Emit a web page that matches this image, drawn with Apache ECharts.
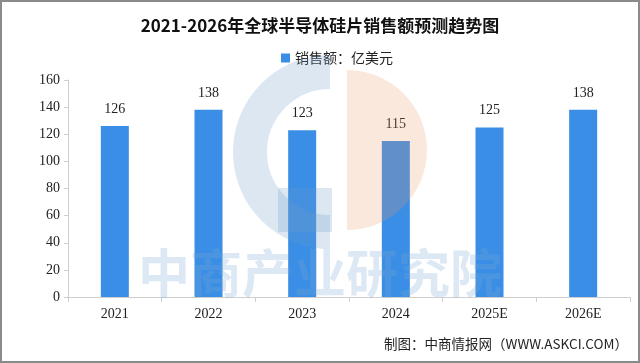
<!DOCTYPE html>
<html><head><meta charset="utf-8">
<script src="https://cdn.jsdelivr.net/npm/echarts@6/dist/echarts.min.js"></script>
<style>
html,body{margin:0;padding:0;background:#fff;}
#c{width:636px;height:359px;border:2px solid #8a8a8a;}
</style></head>
<body><div id="c"></div>
<script>
const categories = ['2021','2022','2023','2024','2025E','2026E'];
const sales = [126, 138, 123, 115, 125, 138];
const yTicks = [0, 160, 20];
const titleText = '2021-2026年全球半导体硅片销售额预测趋势图';
const seriesName = '销售额：亿美元';
const sourceText = '制图：中商情报网（WWW.ASKCI.COM）';
const watermark = '中商产业研究院';

const chart = echarts.init(document.getElementById('c'));
const numFont = '"Liberation Serif","DejaVu Serif",serif';
const cjk = '"Noto Sans CJK SC",sans-serif';
const wmBlue = 'rgba(110,155,200,0.24)';
const wmOrange = 'rgba(236,150,100,0.22)';
chart.setOption({
  animation:false,
  title:{text:titleText,left:'center',top:10,textStyle:{fontSize:17,fontWeight:'bold',color:'#111',fontFamily:cjk}},
  legend:{data:[seriesName],top:44,left:274,itemWidth:9,itemHeight:9,icon:'rect',itemGap:6,
    textStyle:{fontSize:14,color:'#222',fontFamily:cjk}},
  graphic:[
    {type:'arc',z:100,silent:true,shape:{cx:328,cy:150,r:80,startAngle:Math.PI*0.5,endAngle:Math.PI*1.5,clockwise:true},
      style:{stroke:wmBlue,lineWidth:34,fill:null}},
    {type:'rect',z:100,silent:true,shape:{x:276,y:186,width:54,height:44},style:{fill:wmBlue}},
    {type:'sector',z:100,silent:true,shape:{cx:345,cy:148,r0:0,r:80,startAngle:-Math.PI/2,endAngle:Math.PI/2,clockwise:true},style:{fill:wmOrange}},
    {type:'text',z:100,silent:true,left:'center',top:245,style:{text:watermark,fontSize:52,fontWeight:'bold',fill:'rgba(120,165,210,0.26)',fontFamily:cjk}},
    {type:'text',right:10,top:335,style:{text:sourceText,fontSize:13.5,fill:'#222',fontFamily:cjk}}
  ],
  grid:{left:66,right:8,top:78,bottom:64},
  xAxis:{type:'category',data:categories,
    axisLine:{lineStyle:{color:'#cfcfcf'}},axisTick:{show:true,lineStyle:{color:'#cfcfcf'}},
    axisLabel:{color:'#222',fontSize:14,margin:10,fontFamily:numFont}},
  yAxis:{type:'value',min:yTicks[0],max:yTicks[1],interval:yTicks[2],
    splitLine:{show:false},axisLine:{show:true,lineStyle:{color:'#cfcfcf'}},axisTick:{show:true,length:4,lineStyle:{color:'#cfcfcf'}},
    axisLabel:{color:'#222',fontSize:14,margin:8,fontFamily:numFont}},
  series:[{name:seriesName,type:'bar',data:sales,barWidth:28,itemStyle:{color:'#3a8ee6'},
    label:{show:true,position:'top',distance:10,color:'#222',fontSize:14,fontFamily:numFont}}]
});
</script></body></html>
